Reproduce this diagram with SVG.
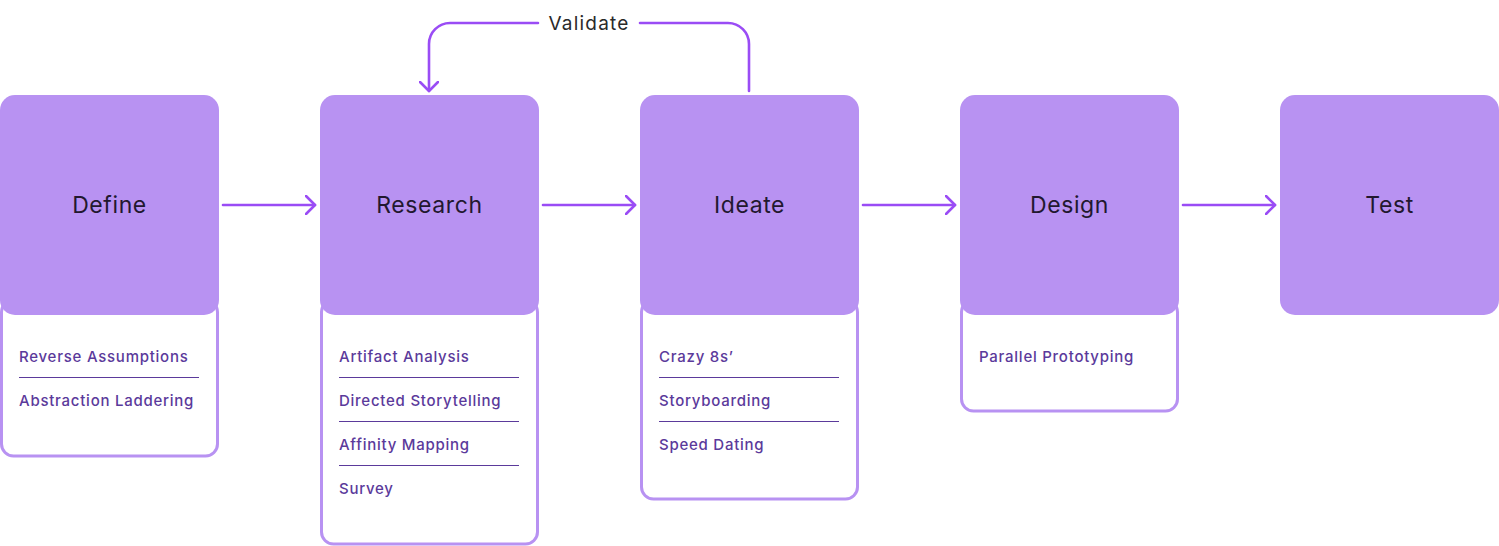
<svg xmlns="http://www.w3.org/2000/svg" width="1499" height="546" viewBox="0 0 1499 546">
<style>
.card{fill:#ffffff;stroke:#b892f2;stroke-width:3}
.head{fill:#b892f2}
.title{font-family:Inter,"Noto Sans",sans-serif;font-size:23px;fill:#22182f;text-anchor:middle;letter-spacing:0.6px}
.item{font-family:Inter,"Noto Sans",sans-serif;font-size:15px;font-weight:500;fill:#5b3a9b;letter-spacing:0.75px}
.sep{stroke:#5b3a9b;stroke-width:1.2}
.conn{fill:none;stroke:#9a4cf5;stroke-width:2.6;stroke-linecap:round;stroke-linejoin:round}
.lbl{font-family:Inter,"Noto Sans",sans-serif;font-size:19px;fill:#2a2a2a;text-anchor:middle;letter-spacing:1.2px}
</style>
<defs>
<marker id="arr" markerWidth="12" markerHeight="20" refX="10" refY="10" orient="auto" markerUnits="userSpaceOnUse">
<path d="M1,1 L10,10 L1,19" fill="none" stroke="#9a4cf5" stroke-width="2.6" stroke-linecap="round" stroke-linejoin="round"/>
</marker>
</defs>
<g id="define">
<rect class="card" x="1.5" y="300" width="216" height="156" rx="12"/>
<rect class="head" x="0" y="95" width="219" height="220" rx="15"/>
<text class="title" x="109.5" y="213">Define</text>
<text class="item" x="19" y="362">Reverse Assumptions</text>
<line class="sep" x1="19" y1="377.5" x2="199" y2="377.5"/>
<text class="item" x="19" y="406">Abstraction Laddering</text>
</g>
<g id="research">
<rect class="card" x="321.5" y="300" width="216" height="244" rx="12"/>
<rect class="head" x="320" y="95" width="219" height="220" rx="15"/>
<text class="title" x="429.5" y="213">Research</text>
<text class="item" x="339" y="362">Artifact Analysis</text>
<line class="sep" x1="339" y1="377.5" x2="519" y2="377.5"/>
<text class="item" x="339" y="406">Directed Storytelling</text>
<line class="sep" x1="339" y1="421.5" x2="519" y2="421.5"/>
<text class="item" x="339" y="450">Affinity Mapping</text>
<line class="sep" x1="339" y1="465.5" x2="519" y2="465.5"/>
<text class="item" x="339" y="494">Survey</text>
</g>
<g id="ideate">
<rect class="card" x="641.5" y="300" width="216" height="199" rx="12"/>
<rect class="head" x="640" y="95" width="219" height="220" rx="15"/>
<text class="title" x="749.5" y="213">Ideate</text>
<text class="item" x="659" y="362">Crazy 8s’</text>
<line class="sep" x1="659" y1="377.5" x2="839" y2="377.5"/>
<text class="item" x="659" y="406">Storyboarding</text>
<line class="sep" x1="659" y1="421.5" x2="839" y2="421.5"/>
<text class="item" x="659" y="450">Speed Dating</text>
</g>
<g id="design">
<rect class="card" x="961.5" y="300" width="216" height="111" rx="12"/>
<rect class="head" x="960" y="95" width="219" height="220" rx="15"/>
<text class="title" x="1069.5" y="213">Design</text>
<text class="item" x="979" y="362">Parallel Prototyping</text>
</g>
<g id="test">
<rect class="head" x="1280" y="95" width="219" height="220" rx="15"/>
<text class="title" x="1389.5" y="213">Test</text>
</g>
<g id="connectors">
<path class="conn" d="M223,205 H315" marker-end="url(#arr)"/>
<path class="conn" d="M543,205 H635" marker-end="url(#arr)"/>
<path class="conn" d="M863,205 H955" marker-end="url(#arr)"/>
<path class="conn" d="M1183,205 H1275" marker-end="url(#arr)"/>
<path class="conn" d="M749,91 V44 A21,21 0 0 0 728,23 H640"/>
<path class="conn" d="M538,23 H450 A21,21 0 0 0 429,44 V91" marker-end="url(#arr)"/>
<text class="lbl" x="589" y="29.5">Validate</text>
</g>
</svg>
